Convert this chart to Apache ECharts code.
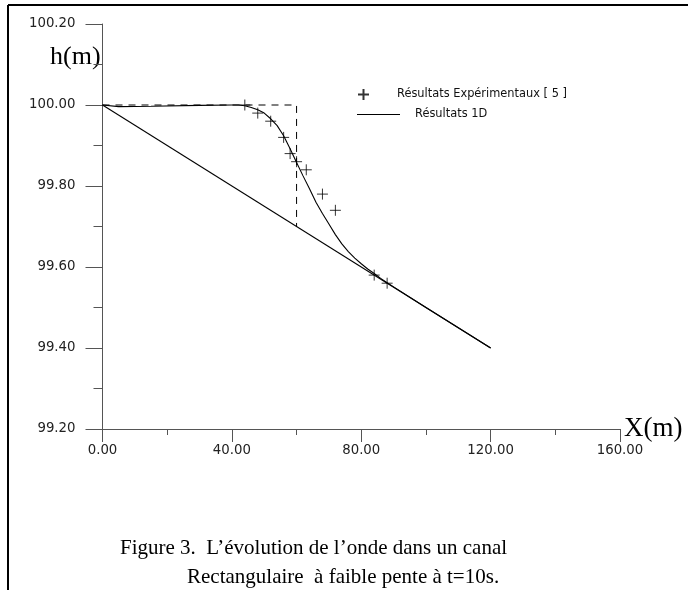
<!DOCTYPE html>
<html>
<head>
<meta charset="utf-8">
<script src="https://cdn.jsdelivr.net/npm/echarts@6/dist/echarts.min.js"></script>
<style>
  html, body { margin: 0; padding: 0; background: #fff; }
  #chart { width: 688px; height: 590px; }
</style>
</head>
<body>
<div id="chart"></div>
<script>
// ---- data ----
const slopeX = [0, 120];
const slopeH = [100.0, 99.4];

const initX = [0, 60, 60];
const initH = [100.0, 100.0, 99.7];

const simX = [0, 5, 15, 30, 40, 42, 44, 46, 48, 50, 52, 54, 56, 58, 60, 62, 64, 66, 68, 70, 72, 74, 76, 78, 80, 82, 84, 86, 88, 90, 100, 110, 120];
const simH = [100.0, 99.996, 99.997, 99.999, 100.0, 100.0, 99.998, 99.994, 99.988, 99.980, 99.966, 99.949, 99.924, 99.892, 99.858, 99.825, 99.793, 99.760, 99.732, 99.706, 99.680, 99.657, 99.638, 99.622, 99.608, 99.595, 99.584, 99.572, 99.561, 99.551, 99.50, 99.45, 99.40];

const expX = [44, 48, 52, 56, 58, 60, 63, 68, 72, 84, 88];
const expH = [100.0, 99.98, 99.96, 99.92, 99.88, 99.86, 99.84, 99.78, 99.74, 99.58, 99.56];

const expName = 'Résultats Expérimentaux [ 5 ]';
const simName = 'Résultats 1D';
const xName = 'X(m)';
const yName = 'h(m)';
const caption1 = 'Figure 3.  L\u2019évolution de l\u2019onde dans un canal';
const caption2 = 'Rectangulaire  à faible pente à t=10s.';

const zip = (a, b) => a.map((v, i) => [v, b[i]]);

const chart = echarts.init(document.getElementById('chart'), null, { renderer: 'canvas' });

const axisCol = '#555';
const labelFont = { fontFamily: 'DejaVu Sans', fontSize: 13.3, color: '#222' };

chart.setOption({
  animation: false,
  backgroundColor: '#fff',
  grid: { left: 102.5, right: 68, top: 24, bottom: 161, containLabel: false, outerBoundsMode: 'none' },
  xAxis: {
    type: 'value', min: 0, max: 160, interval: 40,
    name: xName, nameLocation: 'end', nameGap: 4,
    nameTextStyle: { fontFamily: 'Liberation Serif', fontSize: 27, color: '#000' },
    axisLine: { show: true, onZero: false, lineStyle: { color: axisCol, width: 1 } },
    axisTick: { show: true, length: 13, lineStyle: { color: axisCol } },
    minorTick: { show: true, splitNumber: 2, length: 6, lineStyle: { color: axisCol } },
    splitLine: { show: false },
    axisLabel: Object.assign({ margin: 15, formatter: v => v.toFixed(2) }, labelFont)
  },
  yAxis: {
    type: 'value', min: 99.2, max: 100.2, interval: 0.2,
    axisLine: { show: true, onZero: false, lineStyle: { color: axisCol, width: 1 } },
    axisTick: { show: true, length: 17, lineStyle: { color: axisCol } },
    minorTick: { show: true, splitNumber: 2, length: 9, lineStyle: { color: axisCol } },
    splitLine: { show: false },
    axisLabel: Object.assign({ margin: 27, formatter: v => v.toFixed(2) }, labelFont)
  },
  legend: [
    {
      data: [expName], left: 352, top: 83, orient: 'vertical',
      itemWidth: 11, itemHeight: 11, selectedMode: false,
      textStyle: { fontFamily: 'DejaVu Sans', fontSize: 11.4, color: '#111', padding: [0, 0, 0, 23] }
    },
    {
      data: [{ name: simName, icon: 'rect' }], left: 352, top: 104, orient: 'vertical',
      itemWidth: 43, itemHeight: 1, selectedMode: false,
      itemStyle: { color: '#000' },
      textStyle: { fontFamily: 'DejaVu Sans', fontSize: 11.4, color: '#111', padding: [0, 0, 0, 10] }
    }
  ],
  series: [
    {
      name: 'pente', type: 'line', data: zip(slopeX, slopeH),
      symbol: 'none', lineStyle: { color: '#000', width: 1.1 }, z: 3
    },
    {
      name: 'initial', type: 'line', data: zip(initX, initH),
      symbol: 'none', lineStyle: { color: '#000', width: 1, type: [7, 6] }, z: 2
    },
    {
      name: simName, type: 'line', data: zip(simX, simH),
      symbol: 'none', smooth: false,
      lineStyle: { color: '#000', width: 1.1 }, itemStyle: { color: '#000' }, z: 4
    },
    {
      name: expName, type: 'scatter', data: zip(expX, expH),
      symbol: 'path://M0,5L10,5M5,0L5,10', symbolSize: 11,
      itemStyle: { color: 'rgba(0,0,0,0)', borderColor: '#000', borderWidth: 1 }, z: 5
    }
  ],
  graphic: [
    { type: 'line', shape: { x1: 8, y1: 5, x2: 688, y2: 5 }, style: { stroke: '#000', lineWidth: 2 } },
    { type: 'line', shape: { x1: 8, y1: 5, x2: 8, y2: 590 }, style: { stroke: '#000', lineWidth: 2 } },
    { type: 'text', left: 50, top: 44, style: { text: yName, fontFamily: 'Liberation Serif', fontSize: 26, fill: '#000' } },
    { type: 'text', x: 120, y: 548, style: { text: caption1, fontFamily: 'Liberation Serif', fontSize: 21, fill: '#000', verticalAlign: 'middle' } },
    { type: 'text', x: 187, y: 577, style: { text: caption2, fontFamily: 'Liberation Serif', fontSize: 21, fill: '#000', verticalAlign: 'middle' } }
  ]
});
</script>
</body>
</html>
